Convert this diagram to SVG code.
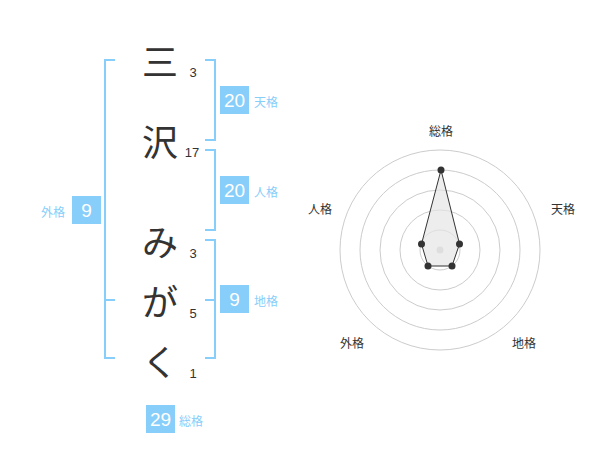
<svg xmlns="http://www.w3.org/2000/svg" width="600" height="470" viewBox="0 0 600 470">
<style>
.br{fill:none;stroke:#87cefa;stroke-width:2}
.ch{font-family:"Noto Sans CJK JP","Noto Sans",sans-serif;font-size:36px;fill:#333;text-anchor:middle;dominant-baseline:central}
.num{font-family:"Liberation Sans",Arial,sans-serif;font-size:13px;fill:#333;text-anchor:middle}
.box{fill:#87cefa}
.bn{font-family:"Liberation Sans",Arial,sans-serif;font-size:19px;fill:#fff;text-anchor:middle;dominant-baseline:central}
.bl{font-family:"Noto Sans CJK JP",sans-serif;font-size:12px;fill:#87cefa;dominant-baseline:central}
.rl{font-family:"Noto Sans CJK JP",sans-serif;font-size:12px;fill:#333;text-anchor:middle;dominant-baseline:central}
.ring{fill:none;stroke:#ccc;stroke-width:1}
.pt{fill:#333}
</style>
<g id="connectors">
<path class="br" d="M115,60 H105 V358 H115 M105,300 H115"/>
<path class="br" d="M205,60 H215 V140 H205"/>
<path class="br" d="M205,150 H215 V230 H205"/>
<path class="br" d="M205,240 H215 V358 H205 M205,300 H215"/>
</g>
<g id="char-1"><text class="ch" x="160" y="60">三</text><text class="num" x="193" y="77">3</text></g>
<g id="char-2"><text class="ch" x="160" y="140">沢</text><text class="num" x="192" y="157">17</text></g>
<g id="char-3"><text class="ch" x="160" y="240">み</text><text class="num" x="193" y="258">3</text></g>
<g id="char-4"><text class="ch" x="160" y="300">が</text><text class="num" x="193" y="318">5</text></g>
<g id="char-5"><text class="ch" x="160" y="360">く</text><text class="num" x="193" y="378">1</text></g>
<g id="tenkaku"><rect class="box" x="220" y="86" width="29" height="28"/><text class="bn" x="234.5" y="100">20</text><text class="bl" x="254" y="101">天格</text></g>
<g id="jinkaku"><rect class="box" x="220" y="176" width="29" height="28"/><text class="bn" x="234.5" y="190">20</text><text class="bl" x="254" y="191">人格</text></g>
<g id="chikaku"><rect class="box" x="220" y="285" width="29" height="28"/><text class="bn" x="234.5" y="299">9</text><text class="bl" x="254" y="300">地格</text></g>
<g id="gaikaku"><rect class="box" x="72" y="196" width="29" height="28"/><text class="bn" x="86.5" y="210">9</text><text class="bl" x="41" y="211">外格</text></g>
<g id="soukaku"><rect class="box" x="146" y="405" width="29" height="28"/><text class="bn" x="160.5" y="419">29</text><text class="bl" x="179" y="420">総格</text></g>
<g id="radar">
<circle class="ring" cx="440" cy="250" r="20"/>
<circle class="ring" cx="440" cy="250" r="40"/>
<circle class="ring" cx="440" cy="250" r="60"/>
<circle class="ring" cx="440" cy="250" r="80"/>
<circle class="ring" cx="440" cy="250" r="100"/>
<circle cx="440" cy="250" r="3.5" fill="#ccc"/>
<polygon points="441,170 459.5,244 452,266 428,266 421.5,244" fill="#e6e6e6" fill-opacity="0.7" stroke="#333" stroke-width="1"/>
<circle class="pt" cx="441" cy="170" r="3.5"/>
<circle class="pt" cx="459.5" cy="244" r="3.5"/>
<circle class="pt" cx="452" cy="266" r="3.5"/>
<circle class="pt" cx="428" cy="266" r="3.5"/>
<circle class="pt" cx="421.5" cy="244" r="3.5"/>
<text class="rl" x="441" y="130">総格</text>
<text class="rl" x="563" y="208">天格</text>
<text class="rl" x="320" y="208">人格</text>
<text class="rl" x="352" y="342">外格</text>
<text class="rl" x="524" y="342">地格</text>
</g>
</svg>
